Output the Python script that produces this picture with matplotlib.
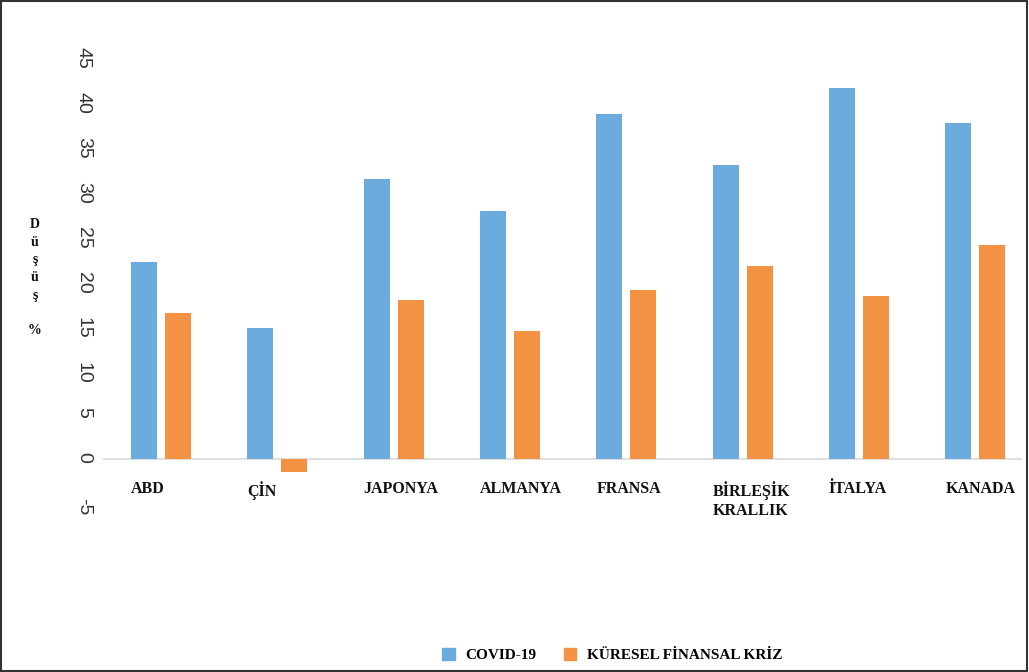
import numpy as np
import matplotlib
matplotlib.use("Agg")
import matplotlib.pyplot as plt
from matplotlib.patches import Rectangle, Patch

# data (% decline)
countries = ["ABD", "ÇİN", "JAPONYA", "ALMANYA", "FRANSA",
             "BİRLEŞİK\nKRALLIK", "İTALYA", "KANADA"]
covid = [21.8, 14.5, 31.0, 27.5, 38.2, 32.6, 41.1, 37.2]
crisis = [16.2, -1.4, 17.6, 14.2, 18.7, 21.4, 18.1, 23.7]
yticks = [-5, 0, 5, 10, 15, 20, 25, 30, 35, 40, 45]
series_names = ["COVID-19", "KÜRESEL FİNANSAL KRİZ"]

blue = "#6CABDD"
orange = "#F39243"
serif = ["Liberation Serif", "DejaVu Serif"]

fig = plt.figure(figsize=(10.29, 6.72), dpi=100)
ax = fig.add_axes([0.100, 0.25, 0.893, 0.6845])

x = np.arange(len(countries))
w = 0.224
ax.bar(x - 0.146, covid, w, color=blue)
ax.bar(x + 0.146, crisis, w, color=orange)

ax.axhline(0, color="#d9d9d9", lw=1.2, zorder=0)
ax.set_xlim(-0.5, 7.40)
ax.set_ylim(-5, 46)

for s in ax.spines.values():
    s.set_visible(False)
ax.set_xticks([])
ax.set_yticks(yticks)
ax.set_yticklabels([str(v) for v in yticks], rotation=-90,
                   family="Liberation Sans", fontsize=14, color="#333333")
ax.tick_params(axis="y", length=0, pad=8)

# category labels, left-aligned at the blue bar
for i, name in enumerate(countries):
    ax.text(i - 0.258, -2.5, name, ha="left", va="top", family=serif,
            fontweight="bold", fontsize=11.5, color="#111111",
            linespacing=1.25)

# stacked y label
ylab = ["D", "ü", "ş", "ü", "ş", "", "%"]
for k, ch in enumerate(ylab):
    fig.text(0.034, 1 - (225 + k * 17.5) / 672, ch, ha="center", va="center",
             family=serif, fontweight="bold", fontsize=10, color="#111111")

handles = [Patch(color=blue), Patch(color=orange)]
fig.legend(handles, series_names, loc="center", bbox_to_anchor=(0.595, 0.025),
           ncol=2, frameon=False, handlelength=0.8, handleheight=0.8,
           columnspacing=1.8, handletextpad=0.7,
           prop={"family": serif, "weight": "bold", "size": 11})

# outer frame
fig.patches.append(Rectangle((0.001, 0.001), 0.997, 0.997, transform=fig.transFigure,
                             fill=False, edgecolor="#333333", lw=1.5))

fig.savefig("out.png", dpi=100)
